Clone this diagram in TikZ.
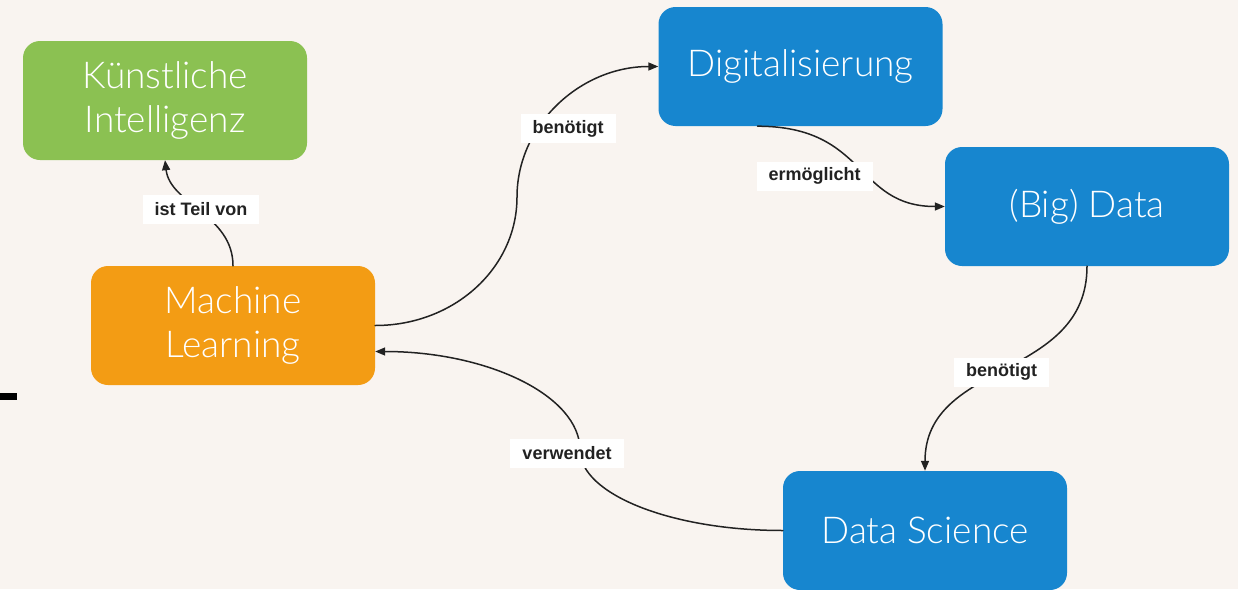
\documentclass[tikz,border=0pt]{standalone}
\usepackage{fontspec}
\setmainfont{Liberation Sans}
\newfontfamily\topicfont{Lato Light}
\usetikzlibrary{arrows.meta}
\definecolor{bgbeige}{HTML}{F9F4F0}
\definecolor{kigreen}{HTML}{8BC152}
\definecolor{mlorange}{HTML}{F39C14}
\definecolor{topicblue}{HTML}{1786CF}
\definecolor{linegray}{HTML}{222222}
\tikzset{
  topic/.style={rounded corners=17pt,minimum width=284pt,minimum height=119pt,inner sep=0pt,
    text=white,align=center,font=\topicfont\fontsize{37}{44}\selectfont},
  relbox/.style={fill=white,text=linegray,inner xsep=12pt,inner ysep=0pt,minimum height=29pt,
    font=\bfseries\fontsize{18}{21}\selectfont},
  rel/.style={draw=linegray,line width=1.5pt,-{Triangle[length=10pt,width=8pt]}}
}
\begin{document}
\begin{tikzpicture}[x=1pt,y=-1pt,line join=round,line cap=round]
  \fill[bgbeige] (0,0) rectangle (1238,589);
  \useasboundingbox (0,0) rectangle (1238,589);
  \fill[black] (0,393) rectangle (17,400);
  % topics
  \node[topic,fill=kigreen] (ki) at (165,100.5) {Künstliche\\Intelligenz};
  \node[topic,fill=mlorange] (ml) at (233,325.5) {Machine\\Learning};
  \node[topic,fill=topicblue] (dig) at (800.5,66.5) {Digitalisierung};
  \node[topic,fill=topicblue] (bd) at (1087,206.5) {(Big) Data};
  \node[topic,fill=topicblue] (ds) at (925,530.5) {Data Science};
  % turning points of the long curves
  \coordinate (needsturn) at (517,197);
  \coordinate (usesturn) at (580,450);
  % relations
  \draw[rel] (ml.north) .. controls +(0,-51) and +(5,44) .. (ki.south);
  \draw[rel] (ml.east) .. controls +(79,0) and +(0,71) .. (needsturn)
    .. controls +(0,-72) and +(-78,0) .. (dig.west);
  \draw[rel] ([xshift=-43pt]dig.south) .. controls +(110,0) and +(-90,0) .. (bd.west);
  \draw[rel] (bd.south) .. controls +(0,114) and +(0,-111) .. (ds.north);
  \draw[rel] (ds.west) .. controls +(-112,0) and +(0,44) .. (usesturn)
    .. controls +(0,-54) and +(113,0) .. ([yshift=-26pt]ml.east);
  % labels
  \node[relbox] (teil) at (201,209) {ist Teil von};
  \node[relbox] (needs1) at (568,128.5) {benötigt};
  \node[relbox] (enables) at (814.5,176) {ermöglicht};
  \node[relbox] (needs2) at (1001.5,372) {benötigt};
  \node[relbox] (uses) at (567,453.5) {verwendet};
\end{tikzpicture}
\end{document}
